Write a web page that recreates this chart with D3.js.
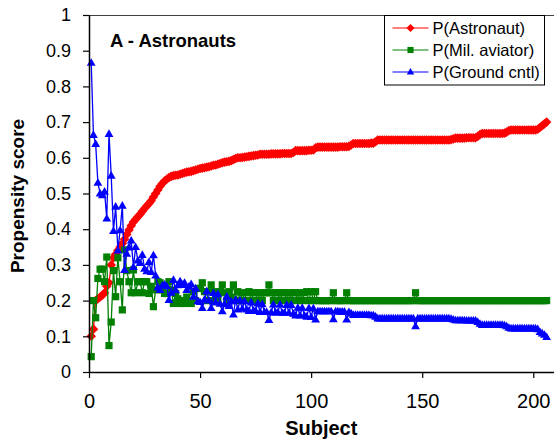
<!DOCTYPE html>
<html>
<head>
<meta charset="utf-8">
<script src="https://cdn.jsdelivr.net/npm/d3@7"></script>
<style>
  html, body { margin: 0; padding: 0; background: #fff; }
  svg { display: block; font-family: "Liberation Sans", Arial, sans-serif; }
</style>
</head>
<body>
<div id="chart"></div>
<script>
// Propensity scores per subject, astronaut group (subjects 1..206, sorted by P(Astronaut))

const pAstronaut = [
  .100,.120,.200,.205,.210,.215,.222,.240,.250,.300,
  .320,.330,.340,.350,.360,.372,.385,.398,.410,.420,
  .428,.435,.442,.450,.458,.465,.472,.480,.490,.500,
  .510,.520,.528,.535,.540,.545,.548,.550,.551,.552,
  .554,.556,.558,.560,.561,.562,.564,.566,.568,.570,
  .571,.572,.574,.575,.577,.579,.580,.582,.584,.586,
  .588,.589,.590,.592,.595,.598,.600,.600,.601,.602,
  .603,.604,.605,.606,.607,.608,.610,.610,.610,.610,
  .610,.611,.611,.611,.611,.611,.612,.612,.612,.612,
  .612,.615,.620,.620,.620,.620,.620,.620,.621,.621,
  .622,.628,.630,.630,.630,.630,.630,.630,.630,.630,
  .630,.630,.631,.631,.631,.631,.632,.636,.640,.640,
  .640,.640,.640,.640,.640,.640,.641,.641,.645,.650,
  .650,.650,.650,.650,.650,.650,.650,.650,.650,.650,
  .650,.650,.650,.650,.650,.650,.650,.650,.650,.650,
  .650,.650,.650,.650,.650,.650,.650,.650,.650,.650,
  .650,.650,.651,.653,.655,.655,.655,.655,.655,.656,
  .656,.656,.656,.656,.660,.665,.668,.668,.668,.668,
  .668,.668,.668,.668,.668,.668,.669,.672,.676,.678,
  .678,.678,.678,.678,.678,.678,.678,.678,.678,.678,
  .678,.680,.685,.690,.695,.700
];

const pMilAviator = [
  .043,.200,.152,.262,.288,.288,.253,.322,.074,.140,
  .284,.211,.320,.253,.174,.342,.284,.253,.222,.286,
  .222,.253,.253,.222,.253,.253,.220,.240,.183,.230,
  .253,.250,.230,.220,.220,.253,.230,.192,.220,.205,
  .192,.200,.192,.210,.200,.192,.225,.200,.234,.234,
  .250,.225,.200,.225,.244,.200,.225,.200,.225,.244,
  .222,.200,.225,.210,.244,.200,.225,.200,.222,.200,
  .222,.225,.200,.222,.222,.200,.222,.200,.222,.222,
  .244,.222,.200,.222,.222,.200,.222,.222,.200,.222,
  .200,.222,.222,.200,.222,.200,.222,.225,.200,.225,
  .200,.225,.200,.200,.200,.200,.200,.200,.200,.222,
  .200,.200,.200,.200,.200,.222,.200,.200,.200,.200,
  .200,.200,.200,.200,.200,.200,.200,.200,.200,.200,
  .200,.200,.200,.200,.200,.200,.200,.200,.200,.200,
  .200,.200,.200,.200,.200,.200,.222,.200,.200,.200,
  .200,.200,.200,.200,.200,.200,.200,.200,.200,.200,
  .200,.200,.200,.200,.200,.200,.200,.200,.200,.200,
  .200,.200,.200,.200,.200,.200,.200,.200,.200,.200,
  .200,.200,.200,.200,.200,.200,.200,.200,.200,.200,
  .200,.200,.200,.200,.200,.200,.200,.200,.200,.200,
  .200,.200,.200,.200,.200,.200
];

const pGroundCntl = [
  .866,.664,.639,.530,.500,.495,.505,.430,.667,.550,
  .395,.463,.340,.397,.466,.286,.331,.349,.368,.294,
  .350,.312,.305,.328,.289,.282,.308,.280,.327,.270,
  .237,.230,.242,.245,.240,.202,.222,.258,.229,.243,
  .254,.244,.250,.230,.239,.246,.211,.234,.198,.196,
  .179,.203,.226,.200,.179,.221,.195,.218,.191,.170,
  .190,.211,.185,.198,.161,.202,.175,.200,.177,.198,
  .175,.171,.195,.172,.171,.192,.168,.190,.168,.168,
  .146,.167,.189,.167,.167,.189,.166,.166,.188,.166,
  .188,.163,.158,.180,.158,.180,.158,.155,.179,.154,
  .178,.147,.170,.170,.170,.170,.170,.170,.170,.148,
  .170,.170,.169,.169,.169,.147,.168,.164,.160,.160,
  .160,.160,.160,.160,.160,.160,.159,.159,.155,.150,
  .150,.150,.150,.150,.150,.150,.150,.150,.150,.150,
  .150,.150,.150,.150,.150,.150,.128,.150,.150,.150,
  .150,.150,.150,.150,.150,.150,.150,.150,.150,.150,
  .150,.150,.149,.147,.145,.145,.145,.145,.145,.144,
  .144,.144,.144,.144,.140,.135,.132,.132,.132,.132,
  .132,.132,.132,.132,.132,.132,.131,.128,.124,.122,
  .122,.122,.122,.122,.122,.122,.122,.122,.122,.122,
  .122,.120,.112,.108,.104,.098
];

const xTicks = [0, 50, 100, 150, 200];
const yTicks = [0, 0.1, 0.2, 0.3, 0.4, 0.5, 0.6, 0.7, 0.8, 0.9, 1];
const yTickLabels = ["0", "0.1", "0.2", "0.3", "0.4", "0.5", "0.6", "0.7", "0.8", "0.9", "1"];

const SERIES = [
  { label: "P(Astronaut)",    values: pAstronaut,  color: "#ff0000", marker: "diamond" },
  { label: "P(Mil. aviator)", values: pMilAviator, color: "#008000", marker: "square" },
  { label: "P(Ground cntl)",  values: pGroundCntl, color: "#0000ff", marker: "triangle" },
];

const W = 554, H = 444;
const m = { top: 15, left: 89 };
const iw = 466.5, ih = 357;

const x = d3.scaleLinear().domain([0, 210]).range([0, iw]);
const y = d3.scaleLinear().domain([0, 1]).range([ih, 0]);

function markerPath(kind) {
  if (kind === "diamond")  return "M0,-4.8L4.8,0L0,4.8L-4.8,0Z";
  if (kind === "square")   return "M-3.6,-3.6H3.6V3.6H-3.6Z";
  return "M0,-4.6L4.4,3H-4.4Z";
}

const svg = d3.select("#chart").append("svg")
  .attr("width", W).attr("height", H);

const g = svg.append("g").attr("transform", `translate(${m.left},${m.top})`);

// top border of plot area
g.append("line")
  .attr("x1", 0).attr("x2", iw)
  .attr("y1", 0.5).attr("y2", 0.5)
  .attr("stroke", "#404040").attr("stroke-width", 1);

// series
SERIES.forEach(s => {
  const pts = s.values.map((v, i) => ({ n: i + 1, v }));
  const line = d3.line().x(d => x(d.n)).y(d => y(d.v));

  g.append("path")
    .datum(pts)
    .attr("d", line)
    .attr("fill", "none")
    .attr("stroke", s.color)
    .attr("stroke-width", 1.3);

  g.selectAll(null)
    .data(pts)
    .join("path")
      .attr("d", markerPath(s.marker))
      .attr("transform", d => `translate(${x(d.n)},${y(d.v)})`)
      .attr("fill", s.color);
});

// axes
const yAxisG = g.append("g")
  .call(d3.axisLeft(y).tickValues(yTicks).tickFormat((d, i) => yTickLabels[i])
    .tickSize(6).tickSizeOuter(0).tickPadding(12));
yAxisG.select(".domain").attr("stroke", "#000").attr("stroke-width", 1.5);
yAxisG.selectAll(".tick line").attr("stroke", "#000").attr("stroke-width", 1.2);
yAxisG.selectAll("text").attr("fill", "#000").attr("font-size", "18px")
  .attr("font-family", "Liberation Sans, Arial, sans-serif");

const xAxisG = g.append("g")
  .attr("transform", `translate(0,${ih})`)
  .call(d3.axisBottom(x).tickValues(xTicks).tickSize(6).tickSizeOuter(0).tickPadding(16));
xAxisG.select(".domain").attr("stroke", "#000").attr("stroke-width", 1.5);
xAxisG.selectAll(".tick line").attr("stroke", "#000").attr("stroke-width", 1.2);
xAxisG.selectAll("text").attr("fill", "#000").attr("font-size", "20px")
  .attr("font-family", "Liberation Sans, Arial, sans-serif");

// panel title
g.append("text")
  .attr("x", 21).attr("y", 32)
  .attr("font-size", "18.5px").attr("font-weight", "bold")
  .text("A - Astronauts");

// axis titles
svg.append("text")
  .attr("transform", `translate(${m.left + iw / 2 - 1},435)`)
  .attr("text-anchor", "middle")
  .attr("font-size", "20px").attr("font-weight", "bold")
  .text("Subject");

svg.append("text")
  .attr("transform", "translate(24,196) rotate(-90)")
  .attr("text-anchor", "middle")
  .attr("font-size", "19px").attr("font-weight", "bold")
  .text("Propensity score");

// legend
const lg = svg.append("g").attr("transform", "translate(384.5,15.5)");
lg.append("rect")
  .attr("width", 160).attr("height", 69.5)
  .attr("fill", "#fff").attr("stroke", "#000").attr("stroke-width", 1);

SERIES.forEach((s, i) => {
  const ry = 12.5 + i * 22;
  lg.append("line")
    .attr("x1", 8).attr("x2", 44).attr("y1", ry).attr("y2", ry)
    .attr("stroke", s.color).attr("stroke-width", 1.2);
  lg.append("path")
    .attr("d", markerPath(s.marker))
    .attr("transform", `translate(26,${ry}) scale(0.85)`)
    .attr("fill", s.color);
  lg.append("text")
    .attr("x", 48).attr("y", ry)
    .attr("dy", "0.36em")
    .attr("font-size", "16.5px")
    .text(s.label);
});
</script>
</body>
</html>
